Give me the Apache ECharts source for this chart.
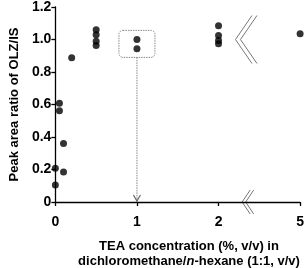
<!DOCTYPE html>
<html>
<head>
<meta charset="utf-8">
<script src="https://cdn.jsdelivr.net/npm/echarts@6/dist/echarts.min.js"></script>
<style>
  html, body { margin: 0; padding: 0; background: #fff; }
  #main { width: 307px; height: 268px; }
</style>
</head>
<body>
<div id="main"></div>
<script>
// TEA concentration (%, v/v) and measured peak area ratio
var conc = [0, 0, 0.05, 0.05, 0.1, 0.1, 0.2, 0.5, 0.5, 0.5, 0.5, 1, 1, 2, 2, 2, 2, 5];
var ratio = [0.207, 0.105, 0.608, 0.561, 0.36, 0.185, 0.888, 1.06, 1.03, 0.99, 0.963, 1.0, 0.943, 1.085, 1.024, 0.994, 0.974, 1.035];
var xTicks = [0, 1, 2, 5];

// axis is broken between 2 and 5: 5 is drawn at position 3
function toAxis(c) { return c > 2 ? 3 : c; }

var font = '"Liberation Sans", Arial, sans-serif';
var points = conc.map(function (c, i) { return [toAxis(c), ratio[i]]; });

var myChart = echarts.init(document.getElementById('main'));

option = {
    animation: false,
    grid: { left: 52, right: 4, top: 6, bottom: 66 },
    xAxis: {
        type: 'value',
        min: 0,
        max: 3,
        interval: 1,
        splitLine: { show: false },
        axisLine: { lineStyle: { color: '#000', width: 1.3 } },
        axisTick: { length: 4, lineStyle: { color: '#000', width: 1.3 } },
        axisLabel: {
            margin: 13,
            color: '#000',
            fontFamily: font,
            fontWeight: 'bold',
            fontSize: 14,
            formatter: function (v) { return String(xTicks[v]); }
        }
    },
    yAxis: {
        type: 'value',
        min: 0,
        max: 1.2,
        interval: 0.2,
        splitLine: { show: false },
        axisLine: { show: true, lineStyle: { color: '#000', width: 1.3 } },
        axisTick: { show: true, length: 4, lineStyle: { color: '#000', width: 1.3 } },
        axisLabel: {
            margin: 4,
            color: '#000',
            fontFamily: font,
            fontWeight: 'bold',
            fontSize: 14,
            formatter: function (v) { return v === 0 ? '0' : v.toFixed(1); }
        },
        name: 'Peak area ratio of OLZ/IS',
        nameLocation: 'middle',
        nameGap: 33,
        nameTextStyle: {
            color: '#000',
            fontFamily: font,
            fontWeight: 'bold',
            fontSize: 13
        }
    },
    series: [{
        type: 'scatter',
        data: points,
        symbol: 'circle',
        symbolSize: 7,
        itemStyle: { color: '#000' }
    }]
};
myChart.setOption(option);

// annotations placed from axis coordinates
var p1 = myChart.convertToPixel({ gridIndex: 0 }, [1, 0.97]);
var p0 = myChart.convertToPixel({ gridIndex: 0 }, [1, 0]);
var brk = myChart.convertToPixel({ gridIndex: 0 }, [2.29, 0]);
var brkTop = myChart.convertToPixel({ gridIndex: 0 }, [2.22, 1.0]);
var gray = '#777';

function chevron(x, y, dx, dy) {
    return {
        type: 'polyline',
        shape: { points: [[x + dx, y - dy], [x, y], [x + dx, y + dy]] },
        style: { stroke: gray, lineWidth: 1, fill: null }
    };
}

myChart.setOption({
    graphic: [
        {
            type: 'rect',
            shape: { x: p1[0] - 18, y: p1[1] - 14, width: 36, height: 27, r: 4 },
            style: { stroke: '#888', lineWidth: 1, lineDash: [1.5, 1], fill: null }
        },
        {
            type: 'line',
            shape: { x1: p1[0], y1: p1[1] + 13, x2: p0[0], y2: p0[1] - 1 },
            style: { stroke: '#888', lineWidth: 1, lineDash: [1.5, 1] }
        },
        {
            type: 'polyline',
            shape: { points: [[p0[0] - 3.5, p0[1] - 7], [p0[0], p0[1] - 1], [p0[0] + 3.5, p0[1] - 7]] },
            style: { stroke: '#666', lineWidth: 1.2, fill: null }
        },
        chevron(brk[0], brk[1], 8, 12),
        chevron(brk[0] + 3.5, brk[1], 8, 12),
        chevron(brkTop[0] - 1, brkTop[1], 16.5, 24),
        chevron(brkTop[0] + 4, brkTop[1], 16.5, 24),
        {
            type: 'text',
            style: {
                text: '{b|TEA concentration (%, v/v) in}\n{b|dichloromethane/}{i|n}{b|-hexane (1:1, v/v)}',
                x: 189,
                y: 239,
                textAlign: 'center',
                textVerticalAlign: 'top',
                rich: {
                    b: { fontFamily: font, fontWeight: 'bold', fontSize: 13, fill: '#000', lineHeight: 15 },
                    i: { fontFamily: font, fontWeight: 'bold', fontStyle: 'italic', fontSize: 13, fill: '#000', lineHeight: 15 }
                }
            }
        }
    ]
});
</script>
</body>
</html>
